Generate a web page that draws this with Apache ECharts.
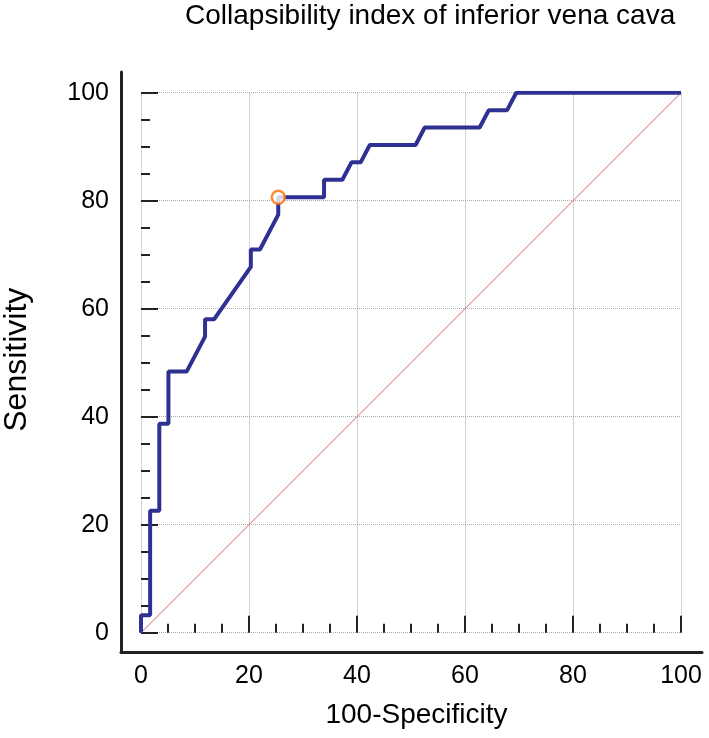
<!DOCTYPE html>
<html>
<head>
<meta charset="utf-8">
<script src="https://cdn.jsdelivr.net/npm/echarts@6/dist/echarts.min.js"></script>
<style>html,body{margin:0;padding:0;background:#fff;}#c{width:709px;height:738px;}</style>
</head>
<body>
<div id="c"></div>
<script>
// ROC curve: 100-Specificity (x) vs Sensitivity (y)
var rocX = [0, 0, 1.69, 1.69, 3.39, 3.39, 5.08, 5.08, 8.47, 11.86, 11.86, 13.56, 20.34, 20.34, 22.03, 25.42, 25.42, 33.90, 33.90, 37.29, 38.98, 40.68, 42.37, 50.85, 52.54, 62.71, 64.41, 67.80, 69.49, 100];
var rocY = [0, 3.23, 3.23, 22.58, 22.58, 38.71, 38.71, 48.39, 48.39, 54.84, 58.06, 58.06, 67.74, 70.97, 70.97, 77.42, 80.65, 80.65, 83.87, 83.87, 87.10, 87.10, 90.32, 90.32, 93.55, 93.55, 96.77, 96.77, 100, 100];
var diagX = [0, 100];
var diagY = [0, 100];
var cutX = [25.42];
var cutY = [80.65];
var tickValues = [0, 20, 40, 60, 80, 100];
var titleText = 'Collapsibility index of inferior vena cava';
var xName = '100-Specificity';
var yName = 'Sensitivity';

function pairs(a, b) { return a.map(function (v, i) { return [v, b[i]]; }); }

var FONT = "'Liberation Sans', Arial, sans-serif";
var chart = echarts.init(document.getElementById('c'), null, {renderer: 'canvas'});
var tickLine = {color: '#222', width: 2};
function mainAxis(name, isX) {
  return {
    type: 'value', gridIndex: 0, min: tickValues[0], max: tickValues[tickValues.length - 1], interval: 20,
    offset: isX ? 19 : 20,
    name: name, nameLocation: 'middle', nameGap: isX ? 50 : 88,
    nameTextStyle: {fontFamily: FONT, fontSize: isX ? 28 : 32, color: '#000', padding: isX ? [0, 0, 0, 11] : [0, 0, 0, 6]},
    axisLine: {show: false},
    axisTick: {show: true, inside: true, length: 17, lineStyle: tickLine},
    minorTick: {show: true, splitNumber: 4, length: 9, lineStyle: tickLine},
    axisLabel: {fontFamily: FONT, fontSize: 25, color: '#000', margin: 12},
    splitLine: {show: true, lineStyle: {color: '#aaaaaa', type: 'dotted', width: 1}},
    minorSplitLine: {show: false}
  };
}
function frameAxis(isX) {
  return {
    type: 'value', gridIndex: 1, min: 0, max: 1, position: isX ? 'bottom' : 'left',
    axisLine: {show: true, lineStyle: {color: '#222', width: 3}},
    axisTick: {show: false}, axisLabel: {show: false}, splitLine: {show: false}
  };
}
chart.setOption({
  backgroundColor: '#fff',
  animation: false,
  title: {text: titleText, left: 180, top: -3, textStyle: {fontFamily: FONT, fontSize: 28, fontWeight: 'normal', color: '#000'}},
  grid: [
    {left: 141, right: 28, top: 92.7, bottom: 105.3, containLabel: false, outerBoundsMode: 'none'},
    {left: 121, right: 7, top: 72, bottom: 86, containLabel: false, outerBoundsMode: 'none'}
  ],
  xAxis: [mainAxis(xName, true), frameAxis(true)],
  yAxis: [mainAxis(yName, false), frameAxis(false)],
  series: [
    {type: 'line', xAxisIndex: 0, yAxisIndex: 0, data: pairs(diagX, diagY), showSymbol: false,
     lineStyle: {color: '#cc6666', width: 1}, itemStyle: {color: '#cc6666'}, z: 2},
    {type: 'line', xAxisIndex: 0, yAxisIndex: 0, data: pairs(rocX, rocY), showSymbol: false,
     lineStyle: {color: '#2e3192', width: 4}, itemStyle: {color: '#2e3192'}, z: 3},
    {type: 'scatter', xAxisIndex: 0, yAxisIndex: 0, data: pairs(cutX, cutY), symbol: 'circle', symbolSize: 13,
     itemStyle: {color: '#fff', borderColor: '#ff7000', borderWidth: 2.5}, z: 4}
  ]
});
</script>
</body>
</html>
